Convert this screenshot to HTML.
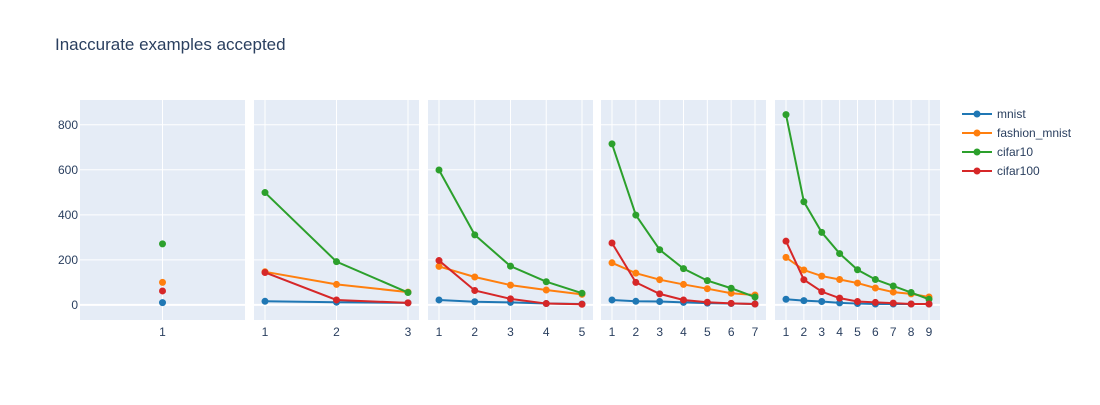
<!DOCTYPE html>
<html><head><meta charset="utf-8"><style>
body{margin:0;background:#fff;font-family:"Liberation Sans",Arial,sans-serif}
svg text{font-family:"Liberation Sans",Arial,sans-serif}
</style></head><body>
<svg id="c" width="1100" height="400">
<text x="55" y="50" font-size="17" fill="#2a3f5f">Inaccurate examples accepted</text>
</svg>
<script>
const seriesNames=["mnist","fashion_mnist","cifar10","cifar100"];
const colors=["#1f77b4","#ff7f0e","#2ca02c","#d62728"];
const yTicks=[0,200,400,600,800];
const mnist=[[10],[16,12,9],[22,14,11,6,4],[22,16,15,11,8,6,4],[25,19,15,9,6,4,4,4,4]];
const fashion=[[100],[147,91,57],[171,124,88,66,47],[187,141,112,91,72,52,44],[211,155,128,113,97,75,57,49,35]];
const cifar10=[[271],[499,192,55],[599,311,172,103,52],[715,399,245,161,108,74,35],[845,458,322,228,156,113,84,55,25]];
const cifar100=[[62],[144,22,9],[197,64,27,6,3],[275,100,49,22,12,7,4],[283,112,59,30,15,11,8,4,4]];
const allSeries=[mnist,fashion,cifar10,cifar100];
const panelX=[80,254,428,601,775], panelW=165, plotTop=100, plotBottom=320;
const yMin=-67, yMax=910;
const NS="http://www.w3.org/2000/svg";
const svg=document.getElementById('c');
function el(t,a){const e=document.createElementNS(NS,t);for(const k in a)e.setAttribute(k,a[k]);svg.appendChild(e);return e;}
function yS(v){return plotBottom-(v-yMin)/(yMax-yMin)*(plotBottom-plotTop);}
function xS(p,i,n){if(n===1)return panelX[p]+panelW/2;const pad=11;return panelX[p]+pad+(i-1)/(n-1)*(panelW-2*pad);}
for(let p=0;p<5;p++){
  const n=mnist[p].length;
  const bg=el('rect',{x:panelX[p],y:plotTop,width:panelW,height:plotBottom-plotTop,fill:'#e5ecf6'});
  
  
  yTicks.forEach(t=>{const g=el('line',{x1:panelX[p],x2:panelX[p]+panelW,y1:yS(t),y2:yS(t),stroke:'#fff','stroke-width':t===0?2:1});
    
    });
  for(let i=1;i<=n;i++){
    const x=xS(p,i,n);
    const g=el('line',{x1:x,x2:x,y1:plotTop,y2:plotBottom,stroke:'#fff','stroke-width':1});
    
    
    const tx=el('text',{x:x,y:336,'font-size':12,fill:'#2a3f5f','text-anchor':'middle'});tx.textContent=i;
    
    
  }
  allSeries.forEach((s,si)=>{
    const vals=s[p];
    if(vals.length>1){
      const pl=el('polyline',{points:vals.map((v,i)=>xS(p,i+1,n)+','+yS(v)).join(' '),fill:'none',stroke:colors[si],'stroke-width':2});
      
      
    }
    vals.forEach((v,i)=>{const c=el('circle',{cx:xS(p,i+1,n),cy:yS(v),r:3.5,fill:colors[si]});
      
      });
  });
}
yTicks.forEach(t=>{const tx=el('text',{x:78,y:yS(t)+4,'font-size':12,fill:'#2a3f5f','text-anchor':'end'});tx.textContent=t;
  
  });
seriesNames.forEach((nm,i)=>{const y=114+i*19;
  const l=el('line',{x1:962,x2:992,y1:y,y2:y,stroke:colors[i],'stroke-width':2});
  
  
  const c=el('circle',{cx:977,cy:y,r:3.5,fill:colors[i]});
  
  
  const tx=el('text',{x:997,y:y+4,'font-size':12,fill:'#2a3f5f'});tx.textContent=nm;
  
  });
</script>
</body></html>
